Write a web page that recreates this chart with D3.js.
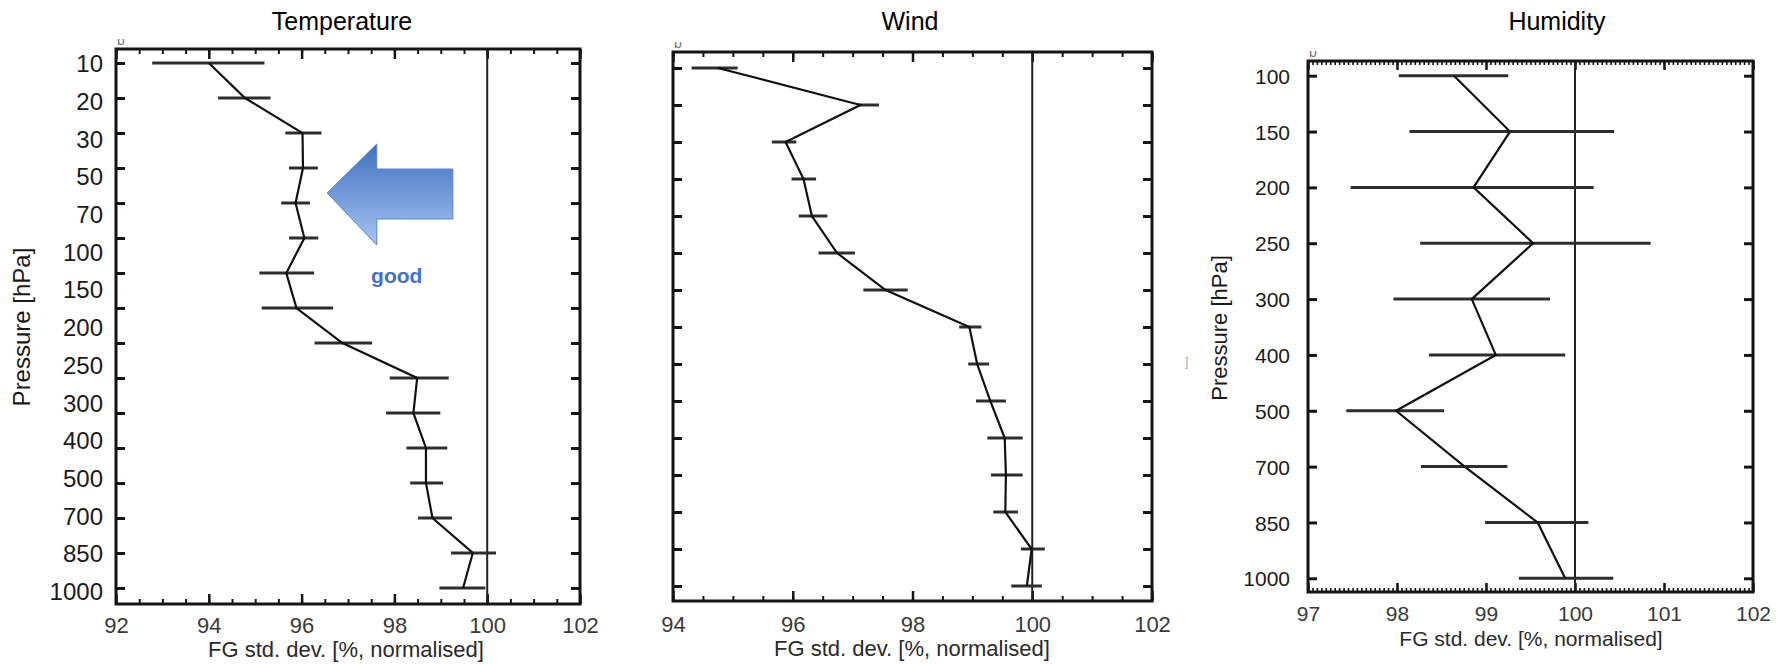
<!DOCTYPE html>
<html><head><meta charset="utf-8">
<script src="https://cdn.jsdelivr.net/npm/d3@7"></script>
<style>
body{margin:0;background:#fff;}
text{font-family:"Liberation Sans",Arial,Helvetica,sans-serif;}
</style>
</head><body>
<svg id="c" width="1783" height="664"></svg>
<script>
// ---------------- DATA ----------------
// Temperature (16 plotted levels, 15 printed labels)
const tempLevels = [10,20,30,50,70,100,150,200,250,300,400,500,700,850,925,1000];
const tempTickLabels = ["10","20","30","50","70","100","150","200","250","300","400","500","700","850","1000"];
const tempValues = [94.0,94.78,96.02,96.03,95.87,96.06,95.67,95.89,96.88,98.49,98.41,98.68,98.68,98.82,99.69,99.48];
const tempLo     = [92.78,94.2,95.65,95.73,95.56,95.73,95.09,95.14,96.28,97.9,97.82,98.26,98.34,98.51,99.22,98.97];
const tempHi     = [95.2,95.33,96.43,96.35,96.18,96.36,96.27,96.68,97.52,99.17,98.99,99.14,99.05,99.24,100.19,99.96];
const tempXTicks = [92,94,96,98,100,102];

// Wind (15 levels, no printed labels)
const windLevels = [10,20,30,50,70,100,150,200,250,300,400,500,700,850,1000];
const windValues = [94.75,97.13,95.88,96.18,96.32,96.74,97.55,98.95,99.08,99.30,99.54,99.56,99.55,99.99,99.91];
const windLo     = [94.31,97.08,95.65,95.98,96.1,96.43,97.18,98.78,98.93,99.06,99.25,99.31,99.35,99.81,99.65];
const windHi     = [95.08,97.44,96.06,96.39,96.58,97.04,97.92,99.15,99.28,99.56,99.84,99.84,99.76,100.21,100.16];
const windXTicks = [94,96,98,100,102];

// Humidity (10 levels)
const humLevels = [100,150,200,250,300,400,500,700,850,1000];
const humTickLabels = ["100","150","200","250","300","400","500","700","850","1000"];
const humValues = [98.64,99.27,98.86,99.53,98.84,99.11,97.99,98.76,99.58,99.89];
const humLo     = [98.02,98.14,97.48,98.26,97.96,98.36,97.43,98.27,98.99,99.37];
const humHi     = [99.25,100.44,100.21,100.85,99.72,99.89,98.53,99.24,100.15,100.43];
const humXTicks = [97,98,99,100,101,102];

const panelTitles = ["Temperature","Wind","Humidity"];
const xAxisTitle = "FG std. dev. [%, normalised]";
const yAxisTitle = "Pressure [hPa]";
const refValue = 100;

// ---------------- DRAW ----------------
const svg = d3.select("#c");
const defs = svg.append("defs");

function panel(p){
  const g = svg.append("g");
  const x = d3.scaleLinear().domain(p.xDomain).range([p.left, p.right]);
  const y = d3.scalePoint().domain(p.levels).range([p.yTop, p.yBot]);
  const [d0,d1] = p.xDomain;
  const nMinor = Math.round((d1-d0)/p.minorStep);
  const minor = d3.range(nMinor+1).map(i => d0 + i*p.minorStep);
  const nMajor = Math.round((d1-d0)/p.majorStep);
  const major = d3.range(nMajor+1).map(i => d0 + i*p.majorStep);
  const axCol = "#151515";

  function clean(sel){ sel.select(".domain").remove(); sel.selectAll("text").remove(); sel.selectAll("line").attr("stroke", axCol); }

  [[p.bottom, d3.axisBottom],[p.top, d3.axisTop]].forEach(([yy, ax])=>{
    g.append("g").attr("transform",`translate(0,${yy})`)
      .call(ax(x).tickValues(minor).tickSize(-p.minorLen)).call(clean)
      .selectAll("line").attr("stroke-width",p.minorWidth);
    g.append("g").attr("transform",`translate(0,${yy})`)
      .call(ax(x).tickValues(major).tickSize(-p.majorLen)).call(clean)
      .selectAll("line").attr("stroke-width",2.5);
  });
  g.append("g").attr("transform",`translate(${p.left},0)`)
    .call(d3.axisLeft(y).tickSize(-p.levelTickLen)).call(clean)
    .selectAll("line").attr("stroke-width",3);
  g.append("g").attr("transform",`translate(${p.right},0)`)
    .call(d3.axisRight(y).tickSize(-p.levelTickLen)).call(clean)
    .selectAll("line").attr("stroke-width",3);

  g.append("line").attr("x1",x(refValue)).attr("x2",x(refValue))
    .attr("y1",p.top).attr("y2",p.bottom).attr("stroke","#222").attr("stroke-width",2);

  const rows = p.levels.map((lv,i)=>({lv, v:p.values[i], lo:p.lo[i], hi:p.hi[i]}));
  g.append("g").selectAll("line").data(rows).join("line")
    .attr("x1",d=>x(d.lo)).attr("x2",d=>x(d.hi))
    .attr("y1",d=>y(d.lv)).attr("y2",d=>y(d.lv))
    .attr("stroke","#2e2e2e").attr("stroke-width",3);

  g.append("path").datum(rows)
    .attr("d", d3.line().x(d=>x(d.v)).y(d=>y(d.lv)))
    .attr("fill","none").attr("stroke","#111").attr("stroke-width",2.2);

  g.append("rect").attr("x",p.left).attr("y",p.top)
    .attr("width",p.right-p.left).attr("height",p.bottom-p.top)
    .attr("fill","none").attr("stroke",axCol).attr("stroke-width",3);

  const xl = g.append("g").attr("transform",`translate(0,${p.xLabelY})`)
    .call(d3.axisBottom(x).tickValues(p.xTicks).tickSize(0).tickFormat(d3.format("d")));
  xl.select(".domain").remove();
  xl.selectAll("text").attr("y",0).attr("dy",0).attr("fill","#3a3a3a")
    .style("font-size",p.xLabelSize+"px");

  g.append("text").attr("x",p.xTitleX).attr("y",p.xTitleY).attr("text-anchor","middle")
    .attr("fill","#2a2a2a").style("font-size",p.xTitleSize+"px").text(xAxisTitle);

  if (p.yLabels){
    const yl = d3.scalePoint().domain(p.yLabels).range(p.yLabelRange);
    const ya = g.append("g").attr("transform",`translate(${p.yLabelRight},0)`)
      .call(d3.axisLeft(yl).tickSize(0).tickPadding(0));
    ya.select(".domain").remove();
    ya.selectAll("text").attr("fill","#1a1a1a").attr("dy","0.36em").style("font-size",p.yLabelSize+"px");
    g.append("text").attr("transform",`translate(${p.yTitleX},${p.yTitleY}) rotate(-90)`)
      .attr("text-anchor","middle").attr("dy","0.35em").attr("fill","#1a1a1a")
      .style("font-size",p.yTitleSize+"px").text(yAxisTitle);
  }

  g.append("text").attr("x",p.titleX).attr("y",30).attr("text-anchor","middle")
    .attr("fill","#000").style("font-size","25px").text(p.title);

  const cid = "clip"+p.id;
  defs.append("clipPath").attr("id",cid).append("rect")
    .attr("x",p.left-4).attr("y",p.top-10).attr("width",16).attr("height",7);
  g.append("text").attr("clip-path",`url(#${cid})`).attr("x",p.left+1).attr("y",p.top-4)
    .attr("fill","#777").style("font-size","14px").text("b");
  return {g,x,y};
}

const T = panel({id:"t", title:panelTitles[0], titleX:342,
  left:116, right:580, top:49, bottom:604, yTop:63, yBot:588,
  xDomain:[92,102], minorStep:0.5, majorStep:2, minorLen:5, majorLen:10, minorWidth:2, levelTickLen:9,
  levels:tempLevels, values:tempValues, lo:tempLo, hi:tempHi,
  xTicks:tempXTicks, xLabelY:633, xLabelSize:22, xTitleX:346, xTitleY:657, xTitleSize:22,
  yLabels:tempTickLabels, yLabelRange:[63,591], yLabelRight:103, yLabelSize:24,
  yTitleX:22, yTitleY:327, yTitleSize:24});

panel({id:"w", title:panelTitles[1], titleX:910,
  left:673, right:1152, top:52, bottom:601, yTop:68, yBot:586,
  xDomain:[94,102], minorStep:0.5, majorStep:2, minorLen:5, majorLen:10, minorWidth:2, levelTickLen:9,
  levels:windLevels, values:windValues, lo:windLo, hi:windHi,
  xTicks:windXTicks, xLabelY:632, xLabelSize:22, xTitleX:912, xTitleY:656, xTitleSize:22});

panel({id:"h", title:panelTitles[2], titleX:1557,
  left:1308, right:1753, top:61, bottom:592, yTop:75.7, yBot:578.3,
  xDomain:[97,102], minorStep:0.05, majorStep:1, minorLen:4, majorLen:9, minorWidth:1.6, levelTickLen:9,
  levels:humLevels, values:humValues, lo:humLo, hi:humHi,
  xTicks:humXTicks, xLabelY:621, xLabelSize:21, xTitleX:1531, xTitleY:646, xTitleSize:21,
  yLabels:humTickLabels, yLabelRange:[75.7,578.3], yLabelRight:1290, yLabelSize:21,
  yTitleX:1219, yTitleY:328, yTitleSize:22});

// ---------------- ANNOTATION (Temperature panel) ----------------
const grad = defs.append("linearGradient").attr("id","arrowGrad")
  .attr("x1",0).attr("y1",0).attr("x2",0).attr("y2",1);
grad.append("stop").attr("offset","0%").attr("stop-color","#3f70bd");
grad.append("stop").attr("offset","100%").attr("stop-color","#a6c5f2");
const ax = T.x;
const arrowTip = 96.55, arrowHeadBase = 97.62, arrowTail = 99.26;
const aTop = 144, aShaftTop = 169, aMid = 193, aShaftBot = 219, aBot = 245;
const arrowPts = [[ax(arrowTip),aMid],[ax(arrowHeadBase),aTop],[ax(arrowHeadBase),aShaftTop],
  [ax(arrowTail),aShaftTop],[ax(arrowTail),aShaftBot],[ax(arrowHeadBase),aShaftBot],[ax(arrowHeadBase),aBot]];
T.g.append("polygon").attr("points",arrowPts.map(d=>d.join(",")).join(" "))
  .attr("fill","url(#arrowGrad)").attr("stroke","#5b84c4").attr("stroke-width",1);
T.g.append("text").attr("x",ax(98.05)).attr("y",283).attr("text-anchor","middle")
  .attr("fill","#4472c4").style("font-size","21px").style("font-weight","bold").text("good");

svg.append("text").attr("x",1185).attr("y",366).attr("fill","#aaa").style("font-size","12px").text("]");
</script>
</body></html>
